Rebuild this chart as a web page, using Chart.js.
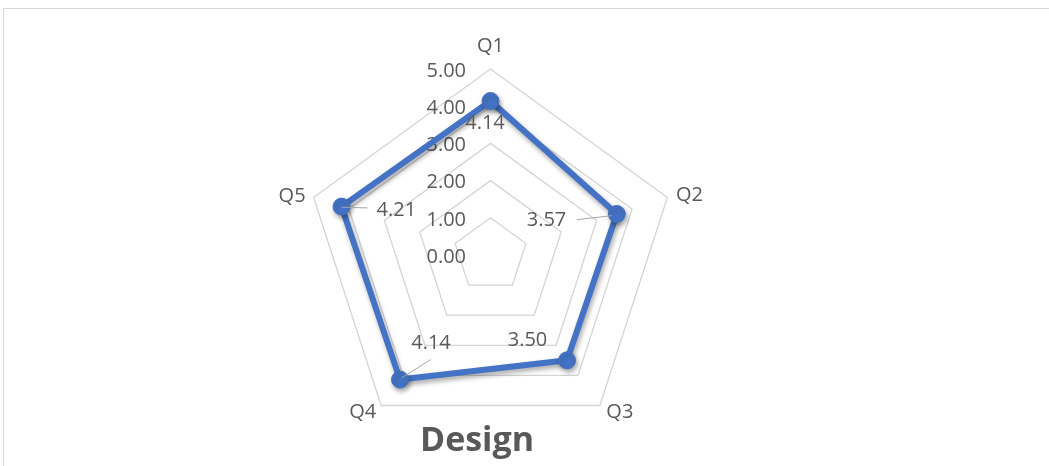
<!DOCTYPE html>
<html><head><meta charset="utf-8">
<script src="https://cdn.jsdelivr.net/npm/chart.js@4"></script>
<style>
html,body{margin:0;padding:0;background:#fff;overflow:hidden;width:1049px;height:466px;}
#frame{position:absolute;left:3px;top:8px;width:1200px;height:600px;border:1px solid #d9d9d9;box-sizing:border-box;}
#c{position:absolute;left:0;top:0;}
</style></head><body>
<div id="frame"></div>
<canvas id="c" width="1049" height="466"></canvas>
<script>
// ---- data ----
const categories = ['Q1', 'Q2', 'Q3', 'Q4', 'Q5'];
const designScores = [4.14, 3.57, 3.50, 4.14, 4.21];
const tickValues = [0, 1, 2, 3, 4, 5];
const chartTitle = 'Design';

// ---- styles ----
const TEXT = '#595959';
const FONT = '"Open Sans", "Liberation Sans", sans-serif';
const BLUE = '#4472C4';

const excelRadar = {
  id: 'excelRadar',
  beforeDatasetsDraw(chart, args, opts) {
    const s = chart.scales.r, ctx = chart.ctx;
    ctx.save();
    ctx.font = '20px ' + FONT;
    ctx.fillStyle = TEXT;
    ctx.textBaseline = 'middle';
    ctx.textAlign = 'right';
    s.ticks.forEach(t => {
      const d = s.getDistanceFromCenterForValue(t.value);
      ctx.fillText(t.label, s.xCenter - 24.5, s.yCenter - d + 2);
    });
    ctx.textAlign = 'center';
    chart.data.labels.forEach((lab, i) => {
      const p = s.getPointPosition(i, s.drawingArea);
      const o = opts.catOffsets[i];
      ctx.fillText(lab, p.x + o[0], p.y + o[1]);
    });
    ctx.restore();
    ctx.save();
    ctx.shadowColor = 'rgba(0,0,0,0.35)';
    ctx.shadowBlur = 5;
    ctx.shadowOffsetX = 1.5;
    ctx.shadowOffsetY = 3;
  },
  afterDatasetsDraw(chart, args, opts) {
    const ctx = chart.ctx;
    ctx.restore();
    const meta = chart.getDatasetMeta(0);
    const vals = chart.data.datasets[0].data;
    ctx.save();
    ctx.strokeStyle = '#a6a6a6';
    ctx.lineWidth = 1;
    meta.data.forEach((pt, i) => {
      const L = opts.leaders[i];
      if (L) {
        ctx.beginPath();
        ctx.moveTo(pt.x + L[0], pt.y + L[1]);
        ctx.lineTo(pt.x + L[2], pt.y + L[3]);
        ctx.stroke();
      }
    });
    ctx.font = '20px ' + FONT;
    ctx.fillStyle = TEXT;
    ctx.textAlign = 'center';
    ctx.textBaseline = 'middle';
    meta.data.forEach((pt, i) => {
      const o = opts.labelOffsets[i];
      ctx.fillText(vals[i].toFixed(2), pt.x + o[0], pt.y + o[1]);
    });
    ctx.restore();
  }
};

new Chart(document.getElementById('c'), {
  type: 'radar',
  data: {
    labels: categories,
    datasets: [{
      data: designScores,
      borderColor: BLUE,
      backgroundColor: 'rgba(0,0,0,0)',
      borderWidth: 6,
      fill: false,
      tension: 0,
      borderJoinStyle: 'round',
      pointRadius: 8.5,
      pointBorderWidth: 1,
      pointBackgroundColor: BLUE,
      pointBorderColor: BLUE
    }]
  },
  options: {
    responsive: false,
    animation: false,
    devicePixelRatio: 1,
    layout: { padding: { left: 0, right: 95, top: 0, bottom: 0 } },
    scales: {
      r: {
        min: tickValues[0],
        max: tickValues[tickValues.length - 1],
        ticks: { stepSize: 1, display: false, callback: v => Number(v).toFixed(2) },
        grid: { color: '#d4d4d4', lineWidth: 1.3 },
        angleLines: { display: false },
        pointLabels: { display: false },
        afterFit(scale) {
          scale.xCenter = 490.5;
          scale.yCenter = 255;
          scale.drawingArea = 186;
        }
      }
    },
    plugins: {
      legend: { display: false },
      tooltip: { enabled: false },
      title: {
        display: true,
        text: chartTitle,
        position: 'bottom',
        align: 'center',
        color: TEXT,
        font: { family: FONT, size: 34, weight: 'bold' },
        padding: { top: 0, bottom: 4 }
      },
      excelRadar: {
        catOffsets: [[0, -22.5], [22, -2.5], [20, 7], [-18.5, 7], [-21.5, -1.5]],
        labelOffsets: [[-5.5, 22.5], [-70.3, 6.7], [-39.5, -20.3], [31, -36.7], [54.8, 4]],
        leaders: [null, [-40, 5.7, -5, 1.7], null, [30.7, -20, 1.7, -1.7], [26, 1.3, 0, 0.6]]
      }
    }
  },
  plugins: [excelRadar]
});
</script>
</body></html>
